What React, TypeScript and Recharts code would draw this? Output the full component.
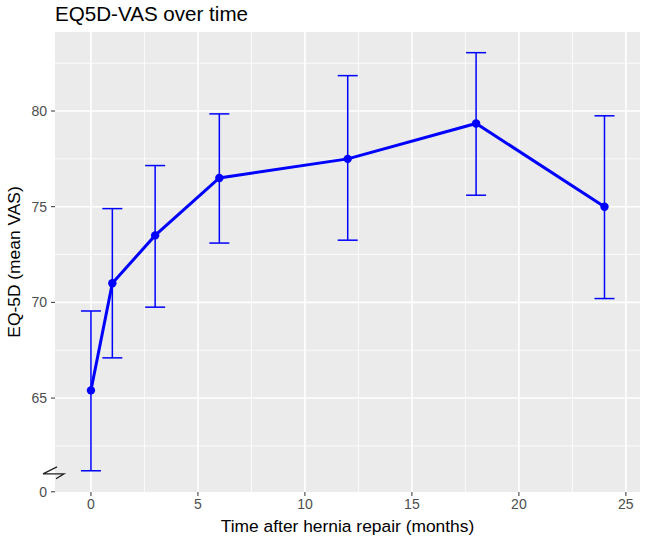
import { LineChart, Line, XAxis, YAxis, CartesianGrid, ErrorBar } from "recharts";

const MONTHS = [0, 1, 3, 6, 12, 18, 24];
const MEAN_VAS = [65.4, 71.0, 73.5, 76.5, 77.5, 79.35, 75.0];
const LOWER = [61.2, 67.1, 69.75, 73.1, 73.25, 75.6, 70.2];
const UPPER = [69.55, 74.9, 77.15, 79.85, 81.85, 83.05, 79.75];

const X_TICKS = [0, 5, 10, 15, 20, 25];
const X_MINOR = [2.5, 7.5, 12.5, 17.5, 22.5];
// the bottom tick sits on a broken axis: it is labelled 0
const Y_BREAK = 60.1;
const Y_TICKS = [Y_BREAK, 65, 70, 75, 80];
const Y_TICK_LABELS = ["0", "65", "70", "75", "80"];
const Y_MAJOR = [65, 70, 75, 80];
const Y_MINOR = [62.5, 67.5, 72.5, 77.5, 82.5];

const data = MONTHS.map((m, i) => ({
  month: m,
  vas: MEAN_VAS[i],
  err: [MEAN_VAS[i] - LOWER[i], UPPER[i] - MEAN_VAS[i]],
}));

const FONT = "'Liberation Sans', Arial, sans-serif";
const BLUE = "#0000ff";

function YTick(props: any) {
  const { x, y, payload } = props;
  const label = Y_TICK_LABELS[Y_TICKS.indexOf(payload.value)];
  return (
    <g>
      <text x={x} y={y} dy="0.36em" textAnchor="end" fill="#4d4d4d" fontSize={14} fontFamily={FONT}>
        {label}
      </text>
      {payload.value === Y_BREAK && (
        <path
          d={`M${x + 10} ${y - 25} L${x - 4} ${y - 18} L${x + 17} ${y - 18} L${x + 9} ${y - 13}`}
          fill="none"
          stroke="#222"
          strokeWidth={1.3}
        />
      )}
    </g>
  );
}

export default function App() {
  return (
    <div style={{ position: "absolute", left: 0, top: 0, width: 645, height: 542, background: "#fff", fontFamily: FONT }}>
      <div style={{ position: "absolute", left: 55, top: 1, fontSize: 20.6, color: "#000", lineHeight: "26px" }}>
        EQ5D-VAS over time
      </div>
      <LineChart width={645} height={542} data={data} margin={{ top: 32, right: 5, bottom: 0, left: 0 }}>
        <CartesianGrid
          fill="#ebebeb"
          stroke="#ffffff"
          strokeWidth={1.6}
          horizontalValues={Y_MAJOR}
          verticalValues={X_TICKS}
        />
        <CartesianGrid
          stroke="#ffffff"
          strokeWidth={0.8}
          horizontalValues={Y_MINOR}
          verticalValues={X_MINOR}
        />
        <XAxis
          dataKey="month"
          type="number"
          domain={[-1.68, 25.66]}
          ticks={X_TICKS}
          allowDataOverflow
          height={50}
          axisLine={false}
          tickSize={4}
          tickMargin={3}
          tickLine={{ stroke: "#333" }}
          tick={{ fill: "#4d4d4d", fontSize: 14, fontFamily: FONT }}
          label={{ value: "Time after hernia repair (months)", position: "insideBottom", offset: 10, fill: "#000", fontSize: 17.4, fontFamily: FONT }}
        />
        <YAxis
          type="number"
          domain={[60.09, 84.13]}
          ticks={Y_TICKS}
          allowDataOverflow
          width={55}
          axisLine={false}
          tickSize={4}
          tickMargin={4}
          tickLine={{ stroke: "#333" }}
          tick={<YTick />}
          label={{
            value: "EQ-5D (mean VAS)",
            angle: -90,
            position: "insideLeft",
            offset: 14,
            fill: "#000",
            fontSize: 17.4,
            fontFamily: FONT,
            style: { textAnchor: "middle" },
          }}
        />
        <Line
          dataKey="vas"
          stroke={BLUE}
          strokeWidth={3}
          dot={{ r: 4.2, fill: BLUE, stroke: BLUE, strokeWidth: 0 }}
          activeDot={false}
          isAnimationActive={false}
        >
          <ErrorBar dataKey="err" direction="y" width={10} stroke={BLUE} strokeWidth={1.5} isAnimationActive={false} />
        </Line>
      </LineChart>
    </div>
  );
}
